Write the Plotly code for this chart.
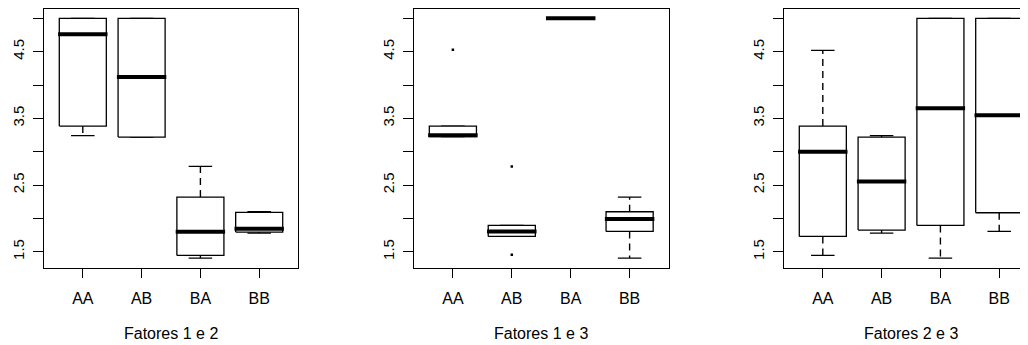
import plotly.graph_objects as go

categories = ["AA", "AB", "BA", "BB"]
panel_titles = ["Fatores 1 e 2", "Fatores 1 e 3", "Fatores 2 e 3"]

# Panel 1: Fatores 1 e 2
p1_lo = [3.24, 3.22, 1.405, 1.78]
p1_q1 = [3.385, 3.22, 1.445, 1.795]
p1_med = [4.76, 4.12, 1.80, 1.845]
p1_q3 = [5.0, 5.0, 2.32, 2.09]
p1_hi = [5.0, 5.0, 2.78, 2.10]
p1_out = [[], [], [], []]

# Panel 2: Fatores 1 e 3
p2_lo = [3.225, 1.73, 5.0, 1.405]
p2_q1 = [3.225, 1.73, 5.0, 1.805]
p2_med = [3.245, 1.805, 5.0, 1.99]
p2_q3 = [3.385, 1.895, 5.0, 2.10]
p2_hi = [3.385, 1.895, 5.0, 2.32]
p2_out = [[4.53], [2.78, 1.455], [], []]

# Panel 3: Fatores 2 e 3
p3_lo = [1.445, 1.78, 1.405, 1.805]
p3_q1 = [1.73, 1.825, 1.895, 2.085]
p3_med = [3.0, 2.555, 3.65, 3.545]
p3_q3 = [3.385, 3.22, 5.0, 5.0]
p3_hi = [4.52, 3.24, 5.0, 5.0]
p3_out = [[], [], [], []]

y_tickvals = [1.5, 2.0, 2.5, 3.0, 3.5, 4.0, 4.5, 5.0]
y_ticktext = ["1.5", "", "2.5", "", "3.5", "", "4.5", ""]

panels = [
    (p1_lo, p1_q1, p1_med, p1_q3, p1_hi, p1_out),
    (p2_lo, p2_q1, p2_med, p2_q3, p2_hi, p2_out),
    (p3_lo, p3_q1, p3_med, p3_q3, p3_hi, p3_out),
]

BOXW = 0.4     # half box width (boxwex 0.8)
STAPW = 0.2    # half staple width
FONT = "Liberation Sans, Arial, sans-serif"

fig = go.Figure()

for p, (lo, q1, med, q3, hi, out) in enumerate(panels):
    xa = "x" if p == 0 else f"x{p+1}"
    ya = "y" if p == 0 else f"y{p+1}"
    for i, cat in enumerate(categories):
        c = i + 1
        wx, wy = [], []
        if hi[i] > q3[i]:
            wx += [c, c, None]; wy += [q3[i], hi[i], None]
        if lo[i] < q1[i]:
            wx += [c, c, None]; wy += [q1[i], lo[i], None]
        if wx:
            fig.add_trace(go.Scatter(x=wx, y=wy, mode="lines", xaxis=xa, yaxis=ya,
                                     line=dict(color="black", width=1.4, dash="7px,5px"),
                                     hoverinfo="skip", showlegend=False))
        fig.add_trace(go.Scatter(x=[c - STAPW, c + STAPW, None, c - STAPW, c + STAPW],
                                 y=[hi[i], hi[i], None, lo[i], lo[i]],
                                 mode="lines", xaxis=xa, yaxis=ya,
                                 line=dict(color="black", width=1.3),
                                 hoverinfo="skip", showlegend=False))
        fig.add_trace(go.Scatter(x=[c - BOXW, c + BOXW, c + BOXW, c - BOXW, c - BOXW],
                                 y=[q1[i], q1[i], q3[i], q3[i], q1[i]],
                                 mode="lines", fill="toself", fillcolor="white",
                                 xaxis=xa, yaxis=ya,
                                 line=dict(color="black", width=1.3),
                                 hoverinfo="skip", showlegend=False))
        fig.add_trace(go.Scatter(x=[c - BOXW - 0.02, c + BOXW + 0.02], y=[med[i], med[i]],
                                 mode="lines", xaxis=xa, yaxis=ya,
                                 line=dict(color="black", width=4),
                                 hoverinfo="skip", showlegend=False))
        if out[i]:
            fig.add_trace(go.Scatter(x=[c] * len(out[i]), y=out[i], mode="markers",
                                     xaxis=xa, yaxis=ya,
                                     marker=dict(color="black", size=2.5, symbol="square"),
                                     hoverinfo="skip", showlegend=False))

# the page body adds an 8px offset; size the figure to the remaining window
OFF = 8
WIN_W, WIN_H = 1028, 345
W, H = WIN_W - OFF, WIN_H - OFF


def fx(px):
    return (px - OFF) / W


def fy(py):
    return 1 - (py - OFF) / H


x_domains = [[fx(44), fx(298)], [fx(414), fx(668.5)], [fx(784), 1.0]]
x_ranges = [[0.34, 4.66], [0.34, 4.66], [0.34, 0.34 + (WIN_W - 784) / 58.8]]
y_domain = [fy(267.7), min(1.0, fy(8.7))]
y_range = [1.261, 5.144]

layout = dict(width=W, height=H, margin=dict(l=0, r=0, t=0, b=0),
              paper_bgcolor="white", plot_bgcolor="white",
              font=dict(family=FONT, size=15, color="black"))

annotations = []
for p in range(3):
    xk = "xaxis" if p == 0 else f"xaxis{p+1}"
    yk = "yaxis" if p == 0 else f"yaxis{p+1}"
    layout[xk] = dict(domain=x_domains[p], range=x_ranges[p], anchor="y" if p == 0 else f"y{p+1}",
                      tickvals=[1, 2, 3, 4], ticktext=categories,
                      showline=True, linecolor="black", linewidth=1.3, mirror=True,
                      ticks="outside", ticklen=9, tickwidth=1.3, tickcolor="black",
                      ticklabelstandoff=7,
                      showgrid=False, zeroline=False, fixedrange=True,
                      tickfont=dict(family=FONT, size=16, color="black"))
    layout[yk] = dict(domain=y_domain, range=y_range, anchor="x" if p == 0 else f"x{p+1}",
                      tickvals=y_tickvals, ticktext=y_ticktext, tickangle=-90,
                      showline=True, linecolor="black", linewidth=1.3, mirror=(p < 2),
                      ticks="outside", ticklen=10, tickwidth=1.3, tickcolor="black",
                      ticklabelstandoff=3,
                      showgrid=False, zeroline=False, fixedrange=True,
                      tickfont=dict(family=FONT, size=15, color="black"))
    annotations.append(dict(text=panel_titles[p], xref=("x" if p == 0 else f"x{p+1}") + " domain",
                            x=(0.5 if p < 2 else (0.5 * 254 / 244)), yref="paper", y=fy(333.5),
                            xanchor="center", yanchor="middle", showarrow=False,
                            font=dict(family=FONT, size=16, color="black")))
layout["annotations"] = annotations

fig.update_layout(**layout)
fig.write_html("out.html")
